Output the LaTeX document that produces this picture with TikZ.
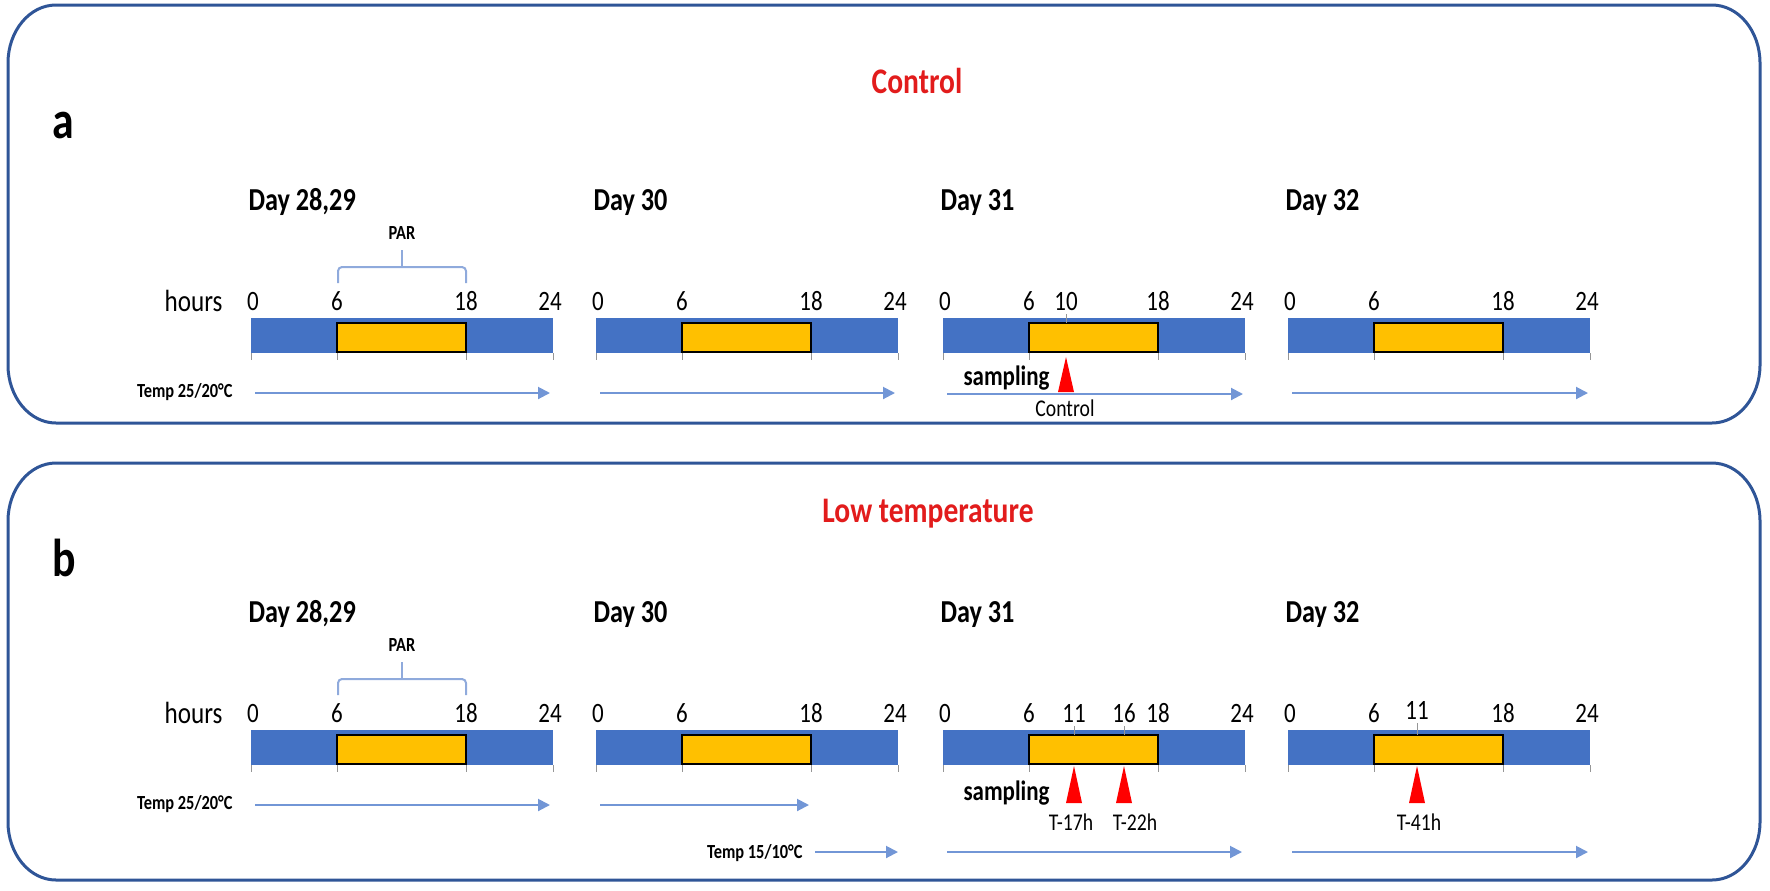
\documentclass[tikz,border=0pt]{standalone}
\usepackage{fontspec}
\setmainfont{Carlito}[FakeStretch=0.82]
\usetikzlibrary{arrows.meta}

\definecolor{barblue}{RGB}{68,114,196}
\definecolor{paryellow}{RGB}{255,192,0}
\definecolor{panelblue}{RGB}{47,85,151}
\definecolor{arrowblue}{RGB}{114,150,214}
\definecolor{bracketblue}{RGB}{143,170,220}
\definecolor{tickgrey}{RGB}{150,150,150}
\definecolor{titlered}{RGB}{226,28,28}
\definecolor{markred}{RGB}{255,0,0}

\tikzset{every picture/.style={line width=0.75pt}}
\tikzset{
  paneltitle/.style={text=titlered,font=\fontsize{27}{30}\selectfont\bfseries,inner sep=0,anchor=base},
  panelletter/.style={font=\fontsize{40}{44}\selectfont\bfseries,inner sep=0,anchor=base west},
  daylbl/.style={font=\fontsize{24}{28}\selectfont\bfseries,inner sep=0,anchor=base west},
  hourlbl/.style={font=\fontsize{23}{26}\selectfont,inner sep=0,anchor=base east},
  numlbl/.style={font=\fontsize{21}{24}\selectfont,inner sep=0,anchor=base},
  parlbl/.style={font=\fontsize{15}{18}\selectfont\bfseries,inner sep=0,anchor=base},
  templbl/.style={font=\fontsize{15}{18}\selectfont\bfseries,inner sep=0,anchor=base east},
  samplbl/.style={font=\fontsize{21}{24}\selectfont\bfseries,inner sep=0,anchor=base east},
  timelbl/.style={font=\fontsize{18}{20}\selectfont,inner sep=0,anchor=base},
  night/.style={fill=barblue,draw=none},
  light/.style={fill=paryellow,draw=black,line width=1.5pt},
  tmark/.style={draw=tickgrey,line width=0.75pt},
  temparrow/.style={draw=arrowblue,line width=1.5pt,-{Triangle[length=9pt,width=9pt]}},
  parbrace/.style={draw=bracketblue,line width=1.5pt,rounded corners=3},
  sampmark/.style={fill=markred,draw=none},
  panel/.style={draw=panelblue,line width=2.25pt},
}

\begin{document}
\begin{tikzpicture}[x=0.75pt,y=0.75pt,yscale=-1,xscale=1]
\useasboundingbox (0,0) rectangle (1770,890); %whole picture 1770 x 890

%Panel a: control
\draw[panel] (8,63) .. controls (8,31) and (29.5,5) .. (56,5) -- (1712,5) .. controls (1738.5,5) and (1760,31) .. (1760,63) -- (1760,365) .. controls (1760,397) and (1738.5,423) .. (1712,423) -- (56,423) .. controls (29.5,423) and (8,397) .. (8,365) -- cycle ;
\node[paneltitle] (ttlA) at (917,93) {Control};
\node[panelletter] (lblA) at (52,138) {a};

\node[daylbl] (dayA1) at (248,210) {Day 28,29};
\node[daylbl] (dayA2) at (593,210) {Day 30};
\node[daylbl] (dayA3) at (940,210) {Day 31};
\node[daylbl] (dayA4) at (1285,210) {Day 32};

%PAR bracket
\node[parlbl] (parA) at (402,239) {PAR};
\draw[parbrace] (338,283) -- (338,267) -- (466,267) -- (466,283) ;
\draw[parbrace] (402,267) -- (402,250) ;

\node[hourlbl] (hrsA) at (223,311) {hours};

%Bars a
\fill[night] (251,318) rectangle (553,353) ;
\draw[light] (337,323) rectangle (466,352) ;
\fill[night] (596,318) rectangle (898,353) ;
\draw[light] (682,323) rectangle (811,352) ;
\fill[night] (943,318) rectangle (1245,353) ;
\draw[light] (1029,323) rectangle (1158,352) ;
\fill[night] (1288,318) rectangle (1590,353) ;
\draw[light] (1374,323) rectangle (1503,352) ;

%Ticks a
\draw[tmark] (251,353) -- (251,360) (337,353) -- (337,360) (466,353) -- (466,360) (553,353) -- (553,360) ;
\draw[tmark] (596,353) -- (596,360) (682,353) -- (682,360) (811,353) -- (811,360) (898,353) -- (898,360) ;
\draw[tmark] (943,353) -- (943,360) (1029,353) -- (1029,360) (1158,353) -- (1158,360) (1245,353) -- (1245,360) ;
\draw[tmark] (1288,353) -- (1288,360) (1374,353) -- (1374,360) (1503,353) -- (1503,360) (1590,353) -- (1590,360) ;
\draw[tmark] (1066,314) -- (1066,323) ;

%Hours a
\node[numlbl] (a1n0) at (253,310) {0};
\node[numlbl] (a1n6) at (337,310) {6};
\node[numlbl] (a1n18) at (466,310) {18};
\node[numlbl] (a1n24) at (550,310) {24};
\node[numlbl] (a2n0) at (598,310) {0};
\node[numlbl] (a2n6) at (682,310) {6};
\node[numlbl] (a2n18) at (811,310) {18};
\node[numlbl] (a2n24) at (895,310) {24};
\node[numlbl] (a3n0) at (945,310) {0};
\node[numlbl] (a3n6) at (1029,310) {6};
\node[numlbl] (a3n10) at (1066,310) {10};
\node[numlbl] (a3n18) at (1158,310) {18};
\node[numlbl] (a3n24) at (1242,310) {24};
\node[numlbl] (a4n0) at (1290,310) {0};
\node[numlbl] (a4n6) at (1374,310) {6};
\node[numlbl] (a4n18) at (1503,310) {18};
\node[numlbl] (a4n24) at (1587,310) {24};

%Temperature a
\node[templbl] (tmpA) at (233,397) {Temp 25/20°C};
\draw[temparrow] (255,393) -- (550,393) ;
\draw[temparrow] (600,393) -- (895,393) ;
\draw[temparrow] (947,394) -- (1243,394) ;
\draw[temparrow] (1292,393) -- (1588,393) ;

%Sampling a
\node[samplbl] (smpA) at (1050,385) {sampling};
\fill[sampmark] (1066,357) -- (1074,392) -- (1058,392) -- cycle ;
\node[timelbl] (ctlA) at (1065,416) {Control};

%Panel b: low temperature
\draw[panel] (8,521) .. controls (8,489) and (29.5,463) .. (56,463) -- (1712,463) .. controls (1738.5,463) and (1760,489) .. (1760,521) -- (1760,822) .. controls (1760,854) and (1738.5,880) .. (1712,880) -- (56,880) .. controls (29.5,880) and (8,854) .. (8,822) -- cycle ;
\node[paneltitle] (ttlB) at (928,522) {Low temperature};
\node[panelletter] (lblB) at (52,576) {b};

\node[daylbl] (dayB1) at (248,622) {Day 28,29};
\node[daylbl] (dayB2) at (593,622) {Day 30};
\node[daylbl] (dayB3) at (940,622) {Day 31};
\node[daylbl] (dayB4) at (1285,622) {Day 32};

%PAR bracket
\node[parlbl] (parB) at (402,651) {PAR};
\draw[parbrace] (338,695) -- (338,679) -- (466,679) -- (466,695) ;
\draw[parbrace] (402,679) -- (402,662) ;

\node[hourlbl] (hrsB) at (223,723) {hours};

%Bars b
\fill[night] (251,730) rectangle (553,765) ;
\draw[light] (337,735) rectangle (466,764) ;
\fill[night] (596,730) rectangle (898,765) ;
\draw[light] (682,735) rectangle (811,764) ;
\fill[night] (943,730) rectangle (1245,765) ;
\draw[light] (1029,735) rectangle (1158,764) ;
\fill[night] (1288,730) rectangle (1590,765) ;
\draw[light] (1374,735) rectangle (1503,764) ;

%Ticks b
\draw[tmark] (251,765) -- (251,772) (337,765) -- (337,772) (466,765) -- (466,772) (553,765) -- (553,772) ;
\draw[tmark] (596,765) -- (596,772) (682,765) -- (682,772) (811,765) -- (811,772) (898,765) -- (898,772) ;
\draw[tmark] (943,765) -- (943,772) (1029,765) -- (1029,772) (1158,765) -- (1158,772) (1245,765) -- (1245,772) ;
\draw[tmark] (1288,765) -- (1288,772) (1374,765) -- (1374,772) (1503,765) -- (1503,772) (1590,765) -- (1590,772) ;
\draw[tmark] (1074,726) -- (1074,735) (1124,726) -- (1124,735) (1417,723) -- (1417,735) ;

%Hours b
\node[numlbl] (b1n0) at (253,722) {0};
\node[numlbl] (b1n6) at (337,722) {6};
\node[numlbl] (b1n18) at (466,722) {18};
\node[numlbl] (b1n24) at (550,722) {24};
\node[numlbl] (b2n0) at (598,722) {0};
\node[numlbl] (b2n6) at (682,722) {6};
\node[numlbl] (b2n18) at (811,722) {18};
\node[numlbl] (b2n24) at (895,722) {24};
\node[numlbl] (b3n0) at (945,722) {0};
\node[numlbl] (b3n6) at (1029,722) {6};
\node[numlbl] (b3n11) at (1074,722) {11};
\node[numlbl] (b3n16) at (1124,722) {16};
\node[numlbl] (b3n18) at (1158,722) {18};
\node[numlbl] (b3n24) at (1242,722) {24};
\node[numlbl] (b4n0) at (1290,722) {0};
\node[numlbl] (b4n6) at (1374,722) {6};
\node[numlbl] (b4n11) at (1417,719) {11};
\node[numlbl] (b4n18) at (1503,722) {18};
\node[numlbl] (b4n24) at (1587,722) {24};

%Temperature b
\node[templbl] (tmpB1) at (233,809) {Temp 25/20°C};
\draw[temparrow] (255,805) -- (550,805) ;
\draw[temparrow] (600,805) -- (809,805) ;
\node[templbl] (tmpB2) at (803,858) {Temp 15/10°C};
\draw[temparrow] (815,852) -- (898,852) ;
\draw[temparrow] (947,852) -- (1242,852) ;
\draw[temparrow] (1292,852) -- (1588,852) ;

%Sampling b
\node[samplbl] (smpB) at (1050,800) {sampling};
\fill[sampmark] (1074,766) -- (1082,803) -- (1066,803) -- cycle ;
\fill[sampmark] (1124,766) -- (1132,803) -- (1116,803) -- cycle ;
\fill[sampmark] (1417,766) -- (1425,803) -- (1409,803) -- cycle ;
\node[timelbl] (t17) at (1071,830) {T-17h};
\node[timelbl] (t22) at (1135,830) {T-22h};
\node[timelbl] (t41) at (1419,830) {T-41h};

\end{tikzpicture}
\end{document}
